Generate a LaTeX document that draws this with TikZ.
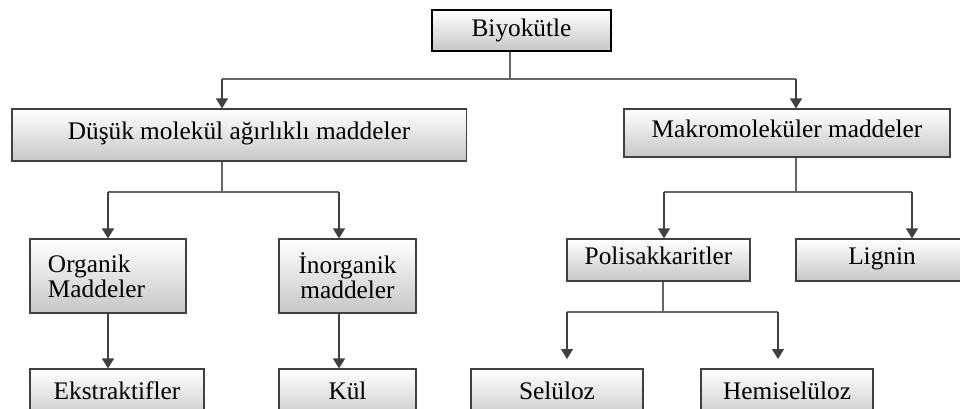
\documentclass[tikz,border=0pt]{standalone}
\usepackage{fontspec}
\setmainfont{Liberation Serif}
\usetikzlibrary{arrows.meta}
\tikzset{
  box/.style={draw=black!75, line width=0.8pt, top color=white, bottom color=black!22,
    font=\fontsize{18}{18}\selectfont, inner sep=0pt},
  one/.style={box, text height=11pt, text depth=4pt},
  arr/.style={draw=black!75, line width=0.9pt, -{Triangle[length=0.25cm,width=0.3cm]}},
  link/.style={draw=black!60, line width=0.9pt}
}
\begin{document}
\begin{tikzpicture}[x=0.025cm,y=-0.025cm]
  \useasboundingbox (0,0) rectangle (960,408);
  \clip (0,0) rectangle (960,408);
  % Albero della biomassa
  \node[box, draw=black, line width=2pt, minimum width=4.475cm, minimum height=1.025cm] (bio) at (521.5,30.5) {Biyokütle};
  \node[one, minimum width=11.35cm, minimum height=1.3cm] (dusuk) at (239,135) {Düşük molekül ağırlıklı maddeler};
  \node[one, minimum width=8.15cm, minimum height=1.2cm] (makro) at (787,133) {Makromoleküler maddeler};
  \node[box, minimum width=3.9cm, minimum height=1.85cm, text width=3cm, align=left] (organik) at (108,276) {Organik\\Maddeler};
  \node[box, minimum width=3.425cm, minimum height=1.85cm, align=center] (inorg) at (347.5,276) {İnorganik\\maddeler};
  \node[one, minimum width=4.575cm, minimum height=1.05cm] (poli) at (658.5,260) {Polisakkaritler};
  \node[one, minimum width=4.3cm, minimum height=1.05cm] (lignin) at (882,260) {Lignin};
  \node[one, minimum width=4.35cm, minimum height=1.3cm] (ekstr) at (117,395) {Ekstraktifler};
  \node[one, minimum width=3.425cm, minimum height=1.3cm] (kul) at (347.5,395) {Kül};
  \node[one, minimum width=4.3cm, minimum height=1.3cm] (selul) at (557,395) {Selüloz};
  \node[one, minimum width=4.3cm, minimum height=1.3cm] (hemi) at (787,395) {Hemiselüloz};

  \coordinate (j0) at (510,79);  \coordinate (l0) at (222,79);  \coordinate (r0) at (796,79);
  \coordinate (j1) at (222,192); \coordinate (l1) at (108,192); \coordinate (r1) at (339,192);
  \coordinate (j2) at (796,192); \coordinate (l2) at (664,192); \coordinate (r2) at (912,192);
  \coordinate (j3) at (663,312); \coordinate (l3) at (567,312); \coordinate (r3) at (778,312);
  \coordinate (e3) at (567,359); \coordinate (f3) at (778,359);

  \foreach \from/\joint in {bio.south/j0, dusuk.south/j1, makro.south/j2, poli.south/j3}
    \draw[link] (\from -| \joint) -- (\joint);
  \foreach \startnode/\endnode in {l0/r0, l1/r1, l2/r2, l3/r3}
    \draw[link] (\startnode) -- (\endnode);
  \foreach \startnode/\endnode in {l0/dusuk, r0/makro, l1/organik, r1/inorg, l2/poli, r2/lignin}
    \draw[arr] (\startnode) -- (\endnode.north -| \startnode);
  \draw[arr] (organik.south) -- (organik.south |- ekstr.north);
  \draw[arr] (inorg.south -| r1) -- (kul.north -| r1);
  \draw[arr] (l3) -- (e3);
  \draw[arr] (r3) -- (f3);
\end{tikzpicture}
\end{document}
